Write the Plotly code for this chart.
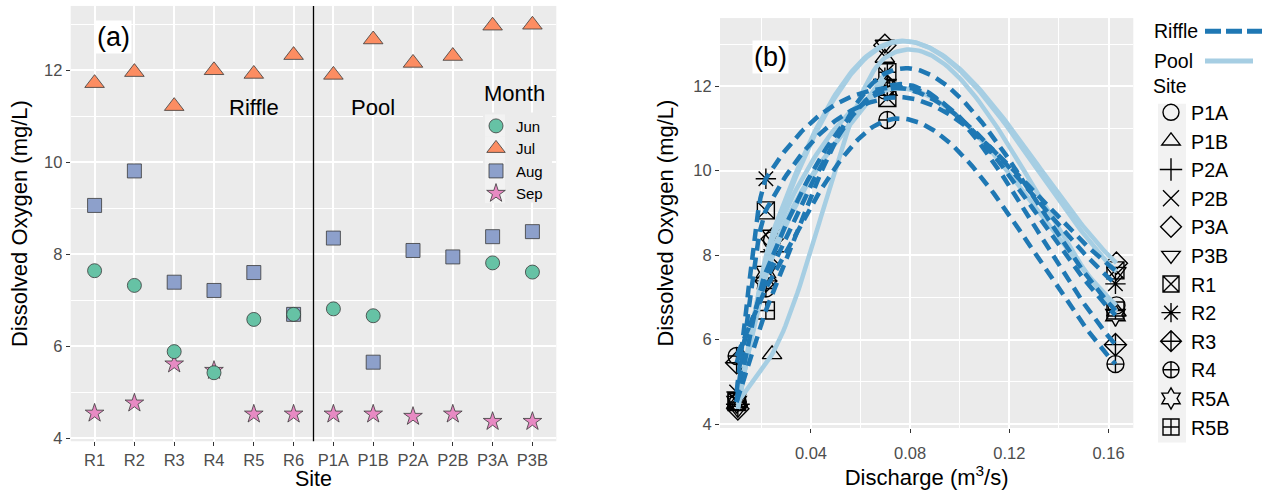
import numpy as np
import plotly.graph_objects as go

# ---------------- Panel (a) data ----------------
sites_a = ["R1", "R2", "R3", "R4", "R5", "R6", "P1A", "P1B", "P2A", "P2B", "P3A", "P3B"]
jun_a = [7.64, 7.32, 5.88, 5.42, 6.58, 6.69, 6.81, 6.66, None, None, 7.81, 7.61]
jul_a = [11.72, 11.96, 11.22, 12.00, 11.92, 12.33, 11.90, 12.67, 12.16, 12.31, 12.97, 12.99]
aug_a = [9.06, 9.81, 7.39, 7.21, 7.60, 6.69, 8.35, 5.65, 8.08, 7.94, 8.38, 8.49]
sep_a = [4.54, 4.76, 5.61, 5.47, 4.52, 4.52, 4.52, 4.52, 4.47, 4.52, 4.36, 4.36]
month_names = ["Jun", "Jul", "Aug", "Sep"]
month_colors = ["#66C2A5", "#FC8D62", "#8DA0CB", "#E78AC3"]
month_symbols = ["circle", "triangle-up", "square", "star"]

# ---------------- Panel (b) data ----------------
sites_b = ["P1A", "P1B", "P2A", "P2B", "P3A", "P3B", "R1", "R2", "R3", "R4", "R5A", "R5B"]
habitat_b = ["Pool"] * 6 + ["Riffle"] * 6
# discharge (m3/s) for Sep, Aug, Jul, Jun
discharge_riffle = [0.0100, 0.0218, 0.0708, 0.1628]
discharge_pool = [0.0105, 0.0243, 0.0698, 0.1632]
do_sep_b = [4.52, 4.52, 4.47, 4.52, 4.36, 4.36, 4.54, 4.76, 5.45, 5.61, 4.52, 4.52]
do_aug_b = [8.35, 5.65, 8.08, 7.94, 8.38, 8.49, 9.06, 9.81, 7.39, 7.21, 7.60, 6.69]
do_jul_b = [11.90, 12.67, 12.16, 12.31, 12.97, 12.99, 11.72, 11.96, 12.00, 11.20, 11.92, 12.33]
do_jun_b = [6.81, 6.66, None, None, 7.81, 7.61, 7.64, 7.32, 5.88, 5.42, 6.58, 6.69]
site_symbols = ["circle-open", "triangle-up-open", "cross-thin-open", "x-thin-open",
                "diamond-open", "triangle-down-open", "square-x-open", "asterisk-open",
                "diamond-cross-open", "circle-cross-open", "hexagram-open", "square-cross-open"]
riffle_color = "#1F78B4"
pool_color = "#A6CEE3"

W, H = 1262, 491
def px(x):
    return x / W
def py(y):
    return 1 - y / H


def smooth_curve(xs, ys, n=160):
    """Piecewise cubic Hermite smoother through the site's points."""
    x = np.asarray(xs, float)
    y = np.asarray(ys, float)
    h = np.diff(x)
    sec = np.diff(y) / h
    m = np.zeros(len(x))
    m[0] = sec[0]
    m[-1] = sec[-1]
    for i in range(1, len(x) - 1):
        if sec[i - 1] * sec[i] > 0:
            w1 = 2 * h[i] + h[i - 1]
            w2 = h[i] + 2 * h[i - 1]
            m[i] = (w1 + w2) / (w1 / sec[i - 1] + w2 / sec[i])
        else:
            bessel = (h[i] * sec[i - 1] + h[i - 1] * sec[i]) / (h[i - 1] + h[i])
            m[i] = 0.5 * bessel
    xx = np.linspace(x[0], x[-1], n)
    idx = np.clip(np.searchsorted(x, xx, side="right") - 1, 0, len(x) - 2)
    t = (xx - x[idx]) / h[idx]
    h00 = 2 * t**3 - 3 * t**2 + 1
    h10 = t**3 - 2 * t**2 + t
    h01 = -2 * t**3 + 3 * t**2
    h11 = t**3 - t**2
    yy = h00 * y[idx] + h10 * h[idx] * m[idx] + h01 * y[idx + 1] + h11 * h[idx] * m[idx + 1]
    return xx, yy


fig = go.Figure()

# ---- panel (a) points ----
month_vals = [jun_a, jul_a, aug_a, sep_a]
draw_order = [2, 3, 0, 1]  # Aug, Sep, Jun, Jul
sizes = [14, 17, 14, 14]
for i in draw_order:
    fig.add_trace(go.Scatter(
        x=sites_a, y=month_vals[i], mode="markers", name=month_names[i],
        legendrank=i + 1, legend="legend",
        marker=dict(symbol=month_symbols[i], size=sizes[i], color=month_colors[i],
                    line=dict(color="#3a3a3a", width=0.8)),
        xaxis="x", yaxis="y"))

# ---- panel (b) points ----
for k, s in enumerate(sites_b):
    xs = discharge_pool if habitat_b[k] == "Pool" else discharge_riffle
    ys = [do_sep_b[k], do_aug_b[k], do_jul_b[k], do_jun_b[k]]
    fig.add_trace(go.Scatter(
        x=xs, y=ys, mode="markers", name=s, legend="legend2", legendrank=k + 1,
        marker=dict(symbol=site_symbols[k], size=17, color="black",
                    line=dict(color="black", width=1.4)),
        xaxis="x2", yaxis="y2"))

# ---- panel (b) smooth curves ----
for k, s in enumerate(sites_b):
    xs = discharge_pool if habitat_b[k] == "Pool" else discharge_riffle
    ys = [do_sep_b[k], do_aug_b[k], do_jul_b[k], do_jun_b[k]]
    pts = [(a, b) for a, b in zip(xs, ys) if b is not None]
    xx, yy = smooth_curve([p[0] for p in pts], [p[1] for p in pts])
    if habitat_b[k] == "Riffle":
        line = dict(color=riffle_color, width=4.5, dash="12px,7px")
    else:
        line = dict(color=pool_color, width=4.5)
    fig.add_trace(go.Scatter(x=xx, y=yy, mode="lines", line=line, showlegend=False,
                             hoverinfo="skip", xaxis="x2", yaxis="y2"))

grid = dict(showgrid=True, gridcolor="white", gridwidth=2, zeroline=False,
            ticks="outside", ticklen=4, tickwidth=1.3, tickcolor="#333333",
            tickfont=dict(family="Liberation Sans", size=16.5, color="#4D4D4D"),
            showline=False)
minor = dict(showgrid=True, gridcolor="white", gridwidth=1, ticks="")

fig.update_layout(
    width=W, height=H, margin=dict(l=0, r=0, t=0, b=0),
    paper_bgcolor="white", plot_bgcolor="#EBEBEB",
    font=dict(family="Liberation Sans", color="black"),
    xaxis=dict(domain=[px(70.7), px(556.3)], anchor="y", type="category",
               categoryorder="array", categoryarray=sites_a, range=[-0.6, 11.6],
               title=dict(text="Site", font=dict(size=21.5), standoff=4), **grid),
    yaxis=dict(domain=[py(446.7), py(6)], anchor="x", range=[3.93, 13.40],
               tick0=0, dtick=2, minor=dict(dtick=1, **minor),
               title=dict(text="Dissolved Oxygen (mg/L)", font=dict(size=22), standoff=10), **grid),
    xaxis2=dict(domain=[px(720), px(1133.3)], anchor="y2", range=[0.0033, 0.170],
                tick0=0, dtick=0.04, minor=dict(dtick=0.02, **minor), ticklabelstandoff=6,
                title=dict(text="Discharge (m<sup>3</sup>/s)", font=dict(size=22), standoff=0), **grid),
    yaxis2=dict(domain=[py(433.3), py(18.3)], anchor="x2", range=[3.906, 13.614],
                tick0=0, dtick=2, minor=dict(dtick=1, **minor),
                title=dict(text="Dissolved Oxygen (mg/L)", font=dict(size=22), standoff=13), **grid),
    legend=dict(x=px(476), y=py(111), xanchor="left", yanchor="top",
                bgcolor="rgba(0,0,0,0)", borderwidth=0,
                font=dict(size=15), tracegroupgap=0),
    legend2=dict(x=px(1151), y=py(68.5), xanchor="left", yanchor="top",
                 bgcolor="rgba(0,0,0,0)", borderwidth=0,
                 title=dict(text="Site", font=dict(size=19.5)),
                 font=dict(size=19.7), tracegroupgap=0),
)

# vertical separator in panel (a)
fig.add_shape(type="line", xref="x", yref="y domain", x0=5.5, x1=5.5, y0=0, y1=1,
              line=dict(color="black", width=1.3))

# legend backgrounds / key boxes
fig.add_shape(type="rect", xref="paper", yref="paper", x0=px(483), x1=px(552),
              y0=py(205), y1=py(114), fillcolor="#EBEBEB", line=dict(width=0), layer="above")
for j in range(4):
    fig.add_shape(type="rect", xref="paper", yref="paper", x0=px(485), x1=px(505),
                  y0=py(115.75 + 22.5 * (j + 1)), y1=py(115.75 + 22.5 * j),
                  fillcolor="#F2F2F2", line=dict(width=0), layer="above")
fig.add_shape(type="rect", xref="paper", yref="paper", x0=px(1158), x1=px(1186),
              y0=py(448), y1=py(105), fillcolor="#F2F2F2", line=dict(width=0), layer="above")

# Riffle / Pool line legend
fig.add_shape(type="line", xref="paper", yref="paper", x0=px(1205), x1=px(1262),
              y0=py(31.7), y1=py(31.7), line=dict(color=riffle_color, width=5, dash="16px,5px"))
fig.add_shape(type="line", xref="paper", yref="paper", x0=px(1205), x1=px(1253),
              y0=py(61.7), y1=py(61.7), line=dict(color=pool_color, width=5))
for txt, yy in [("Riffle", 31.7), ("Pool", 61.7)]:
    fig.add_annotation(text=txt, xref="paper", yref="paper", x=px(1152), y=py(yy),
                       xanchor="left", yanchor="middle", showarrow=False,
                       font=dict(size=19.5, color="black"))

# legend title of panel (a)
fig.add_annotation(text="Month", xref="paper", yref="paper", x=px(514), y=py(95),
                   xanchor="center", yanchor="middle", showarrow=False,
                   font=dict(size=22, color="black"))

# panel labels
fig.add_annotation(text="(a)", xref="paper", yref="paper", x=px(113.5), y=py(37.5),
                   xanchor="center", yanchor="middle", showarrow=False,
                   font=dict(size=27, color="black"), bgcolor="white", borderpad=1)
fig.add_annotation(text="(b)", xref="paper", yref="paper", x=px(770), y=py(58),
                   xanchor="center", yanchor="middle", showarrow=False,
                   font=dict(size=27, color="black"), bgcolor="white", borderpad=1)
fig.add_annotation(text="Riffle", xref="x", yref="y", x=4, y=11.2, showarrow=False,
                   xanchor="center", yanchor="middle", font=dict(size=22, color="black"))
fig.add_annotation(text="Pool", xref="x", yref="y", x=7, y=11.2, showarrow=False,
                   xanchor="center", yanchor="middle", font=dict(size=22, color="black"))

fig.write_html("out.html", config={"displayModeBar": False},
               post_script="document.body.style.margin='0px';document.body.style.overflow='hidden';")
